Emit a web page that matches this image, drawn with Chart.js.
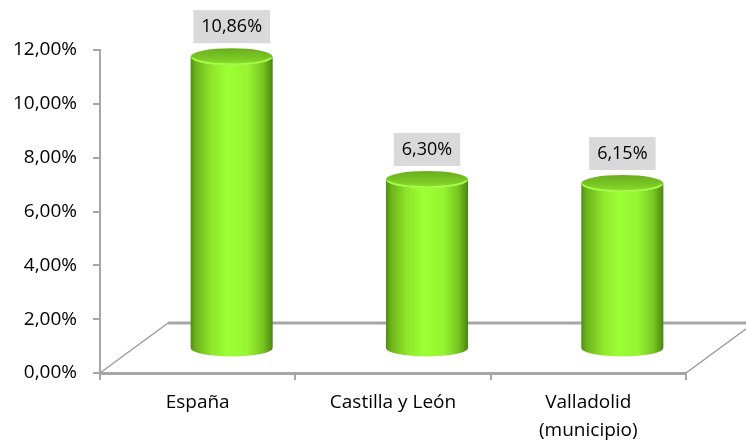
<!DOCTYPE html>
<html>
<head>
<meta charset="utf-8">
<script src="https://cdn.jsdelivr.net/npm/chart.js@4/dist/chart.umd.min.js"></script>
<style>
  html, body { margin: 0; padding: 0; background: #fff; }
  canvas { display: block; }
</style>
</head>
<body>
<canvas id="c" width="746" height="441"></canvas>
<script>
// data
const categories = ['España', 'Castilla y León', ['Valladolid', '(municipio)']];
const values = [10.86, 6.30, 6.15];
const valueLabels = ['10,86%', '6,30%', '6,15%'];
const yMin = 0, yMax = 12, yStep = 2;

// fake 3D depth of the floor (px)
const DX = 68, DY = 50;
const FONT = '"Open Sans", "Liberation Sans", sans-serif';

// floor edges drawn behind the cylinders
const floor3d = {
  id: 'floor3d',
  beforeDatasetsDraw(chart) {
    const ctx = chart.ctx, a = chart.chartArea;
    ctx.save();
    ctx.strokeStyle = '#a6a6a6';
    ctx.lineWidth = 3;
    ctx.beginPath();
    ctx.moveTo(a.left + DX, a.bottom - DY);
    ctx.lineTo(a.right + DX, a.bottom - DY);
    ctx.stroke();
    ctx.strokeStyle = '#9c9c9c';
    ctx.lineWidth = 1.5;
    ctx.beginPath();
    ctx.moveTo(a.left, a.bottom);
    ctx.lineTo(a.left + DX, a.bottom - DY);
    ctx.moveTo(a.right, a.bottom);
    ctx.lineTo(a.right + DX, a.bottom - DY);
    ctx.stroke();
    ctx.restore();
  }
};

// cylinders + value boxes, built from the bar elements the library laid out
const cylinders = {
  id: 'cylinders',
  afterDatasetsDraw(chart) {
    const ctx = chart.ctx;
    const meta = chart.getDatasetMeta(0);
    meta.data.forEach((bar, i) => {
      const p = bar.getProps(['x', 'y', 'base', 'width'], true);
      const cx = p.x + DX / 2, top = p.y - 24, bot = p.base - 24;
      const rx = p.width / 2, ry = 8.5;
      ctx.save();

      // body
      const g = ctx.createLinearGradient(cx - rx, 0, cx + rx, 0);
      g.addColorStop(0, '#4f8e12');
      g.addColorStop(0.06, '#6cb21c');
      g.addColorStop(0.25, '#8ee42a');
      g.addColorStop(0.45, '#9dff35');
      g.addColorStop(0.7, '#96f430');
      g.addColorStop(0.88, '#78c621');
      g.addColorStop(1, '#4a860f');
      ctx.fillStyle = g;
      ctx.beginPath();
      ctx.moveTo(cx - rx, top);
      ctx.lineTo(cx - rx, bot);
      ctx.ellipse(cx, bot, rx, ry, 0, Math.PI, 0, true);
      ctx.lineTo(cx + rx, top);
      ctx.ellipse(cx, top, rx, ry, 0, 0, Math.PI, false);
      ctx.closePath();
      ctx.fill();

      // top cap
      const tg = ctx.createLinearGradient(0, top - ry, 0, top + ry);
      tg.addColorStop(0, '#6aad1e');
      tg.addColorStop(0.6, '#7bc825');
      tg.addColorStop(1, '#90e22d');
      ctx.fillStyle = tg;
      ctx.beginPath();
      ctx.ellipse(cx, top, rx, ry, 0, 0, Math.PI * 2);
      ctx.fill();
      ctx.strokeStyle = '#a6ff48';
      ctx.lineWidth = 1.5;
      ctx.beginPath();
      ctx.ellipse(cx, top, rx - 1, ry - 1, 0, 0.15, Math.PI - 0.15);
      ctx.stroke();

      // value box
      ctx.font = '18px ' + FONT;
      const txt = valueLabels[i];
      const tw = ctx.measureText(txt).width;
      const ly = top - 30;
      ctx.fillStyle = '#d9d9d9';
      ctx.fillRect(cx - tw / 2 - 8, ly - 16.5, tw + 16, 33);
      ctx.fillStyle = '#000';
      ctx.textAlign = 'center';
      ctx.textBaseline = 'middle';
      ctx.fillText(txt, cx, ly);
      ctx.restore();
    });
  }
};

new Chart(document.getElementById('c'), {
  type: 'bar',
  data: {
    labels: categories,
    datasets: [{
      data: values,
      backgroundColor: 'rgba(0,0,0,0)',
      borderWidth: 0,
      categoryPercentage: 1,
      barPercentage: 0.42
    }]
  },
  options: {
    responsive: false,
    animation: false,
    layout: { padding: { top: 50, right: 60, left: 0, bottom: 0 } },
    plugins: { legend: { display: false }, tooltip: { enabled: false } },
    scales: {
      x: {
        afterFit(s) { s.height = 68; },
        border: { color: '#a6a6a6', width: 3 },
        grid: { drawOnChartArea: false, tickLength: 7, color: '#a6a6a6', lineWidth: 2 },
        ticks: { color: '#000', padding: 8, font: { family: FONT, size: 19, lineHeight: 1.5 } }
      },
      y: {
        min: yMin, max: yMax,
        afterFit(s) { s.width = 100; },
        border: { color: '#a6a6a6', width: 2 },
        grid: { drawOnChartArea: false, tickLength: 7, color: '#a6a6a6', lineWidth: 2 },
        ticks: {
          stepSize: yStep, color: '#000', padding: 16,
          font: { family: FONT, size: 19 },
          callback: v => v.toFixed(2).replace('.', ',') + '%'
        }
      }
    }
  },
  plugins: [floor3d, cylinders]
});
</script>
</body>
</html>
